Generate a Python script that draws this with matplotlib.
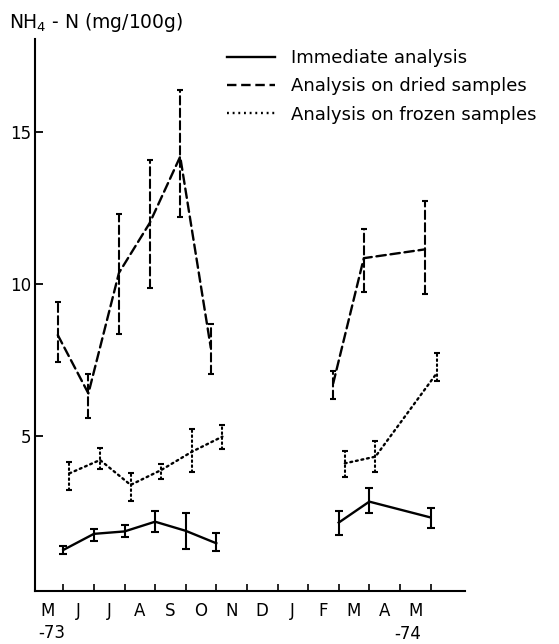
import numpy as np
import matplotlib.pyplot as plt
from matplotlib.lines import Line2D

months = ['M', 'J', 'J', 'A', 'S', 'O', 'N', 'D', 'J', 'F', 'M', 'A', 'M']

# sampling dates (month boundaries), two seasons
x_season1 = [0.5, 1.5, 2.5, 3.5, 4.5, 5.5]
x_season2 = [9.5, 10.5, 12.5]

# immediate analysis
imm_y1 = [1.25, 1.78, 1.86, 2.18, 1.88, 1.47]
imm_hi1 = [1.38, 1.95, 2.08, 2.54, 2.48, 1.80]
imm_lo1 = [1.12, 1.56, 1.67, 1.85, 1.27, 1.22]
imm_y2 = [2.15, 2.84, 2.32]
imm_hi2 = [2.54, 3.28, 2.62]
imm_lo2 = [1.74, 2.48, 1.98]

# dried samples
dry_y1 = [8.32, 6.40, 10.37, 12.0, 14.19, 7.9]
dry_hi1 = [9.42, 7.03, 12.3, 14.08, 16.38, 8.67]
dry_lo1 = [7.44, 5.58, 8.35, 9.86, 12.21, 7.04]
dry_y2 = [6.73, 10.85, 11.14]
dry_hi2 = [7.15, 11.8, 12.73]
dry_lo2 = [6.22, 9.75, 9.66]

# frozen samples
frz_y1 = [3.77, 4.21, 3.39, 3.88, 4.48, 4.98]
frz_hi1 = [4.16, 4.60, 3.77, 4.07, 5.23, 5.36]
frz_lo1 = [3.22, 3.90, 2.86, 3.58, 3.83, 4.57]
frz_y2 = [4.10, 4.32, 7.06]
frz_hi2 = [4.52, 4.84, 7.72]
frz_lo2 = [3.66, 3.83, 6.81]

labels = ['Immediate analysis', 'Analysis on dried samples',
          'Analysis on frozen samples']

plt.rcParams['font.family'] = 'DejaVu Sans'

fig = plt.figure(figsize=(5.59, 6.44), dpi=100)
ax = fig.add_axes([0.0626, 0.0823, 0.7694, 0.8571])

dash = (0, (4, 2))
dot = (0, (0.8, 1.6))


def draw(x, y, lo, hi, shift, ls, cap):
    x = np.array(x) + shift
    y = np.array(y)
    err = [y - np.array(lo), np.array(hi) - y]
    eb = ax.errorbar(x, y, yerr=err, color='black', lw=1.7, ls=ls,
                     elinewidth=1.5, capsize=cap, capthick=1.5)
    eb[2][0].set_linestyle(ls)
    eb[0].set_dash_capstyle('round')
    eb[2][0].set_capstyle('round')


for xs, ys, lo, hi in [(x_season1, imm_y1, imm_lo1, imm_hi1),
                       (x_season2, imm_y2, imm_lo2, imm_hi2)]:
    draw(xs, ys, lo, hi, 0.0, '-', 2.9)
for xs, ys, lo, hi in [(x_season1, dry_y1, dry_lo1, dry_hi1),
                       (x_season2, dry_y2, dry_lo2, dry_hi2)]:
    draw(xs, ys, lo, hi, -0.18, dash, 2.2)
for xs, ys, lo, hi in [(x_season1, frz_y1, frz_lo1, frz_hi1),
                       (x_season2, frz_y2, frz_lo2, frz_hi2)]:
    draw(xs, ys, lo, hi, 0.2, dot, 2.2)

ax.set_xlim(-0.425, 13.63)
ax.set_ylim(-0.1, 18.06)

for s in ['top', 'right']:
    ax.spines[s].set_visible(False)
for s in ['left', 'bottom']:
    ax.spines[s].set_linewidth(1.5)

ax.set_yticks([5, 10, 15])
ax.tick_params(axis='y', direction='in', length=6, width=1.3, pad=3,
               labelsize=12)

# ticks at month boundaries, letters centred on months
ax.set_xticks(np.arange(0.5, 13, 1.0))
ax.set_xticklabels([])
ax.set_xticks(np.arange(len(months)), minor=True)
ax.set_xticklabels(months, minor=True)
ax.tick_params(axis='x', which='major', direction='in', length=5, width=1.2)
ax.tick_params(axis='x', which='minor', length=0, pad=8, labelsize=12)

tr = ax.get_xaxis_transform()
ax.text(0.13, -0.076, '-73', transform=tr, ha='center', va='center',
        fontsize=12)
ax.text(11.77, -0.078, '-74', transform=tr, ha='center', va='center',
        fontsize=12)

fig.text(9 / 559, 1 - 23 / 644, r'NH$_4$ - N (mg/100g)', ha='left',
         va='center', fontsize=13.5)

handles = [Line2D([], [], color='black', lw=1.7, ls='-'),
           Line2D([], [], color='black', lw=1.7, ls=dash),
           Line2D([], [], color='black', lw=1.7, ls=dot)]
fig.legend(handles, labels, loc='upper left',
           bbox_to_anchor=(226.7 / 559, 1 - 49 / 644), frameon=False,
           fontsize=13, handlelength=2.7, handletextpad=0.85,
           labelspacing=0.57, borderpad=0, borderaxespad=0)

fig.savefig('out.png', dpi=100)
